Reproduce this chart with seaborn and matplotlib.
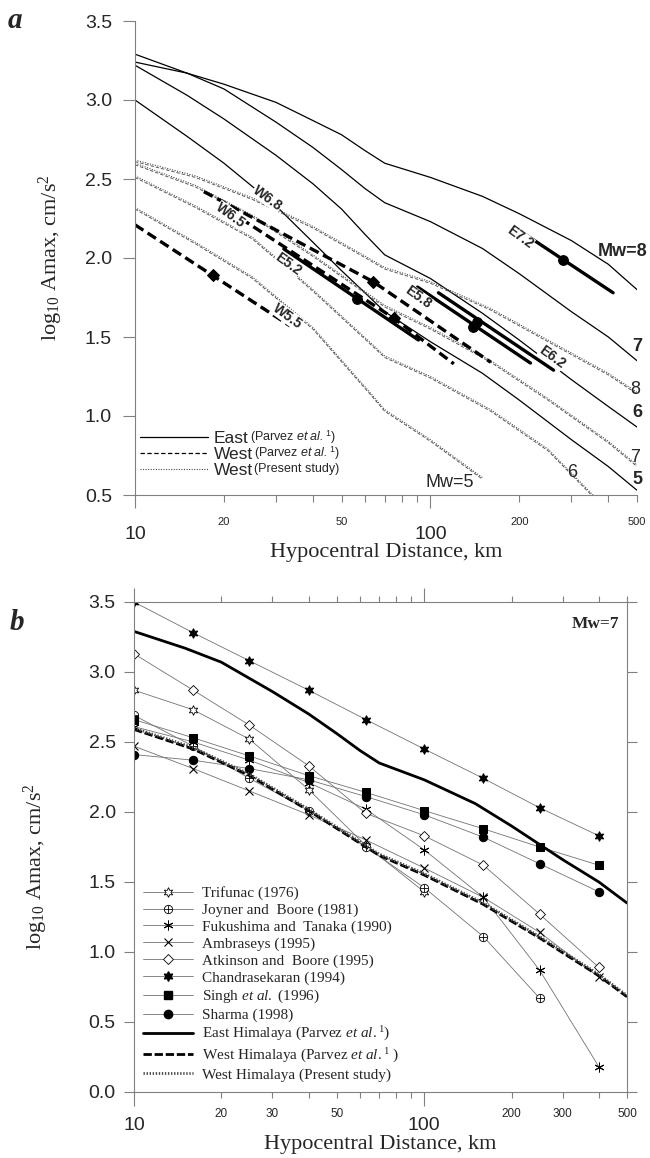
import matplotlib
matplotlib.use("Agg")
import matplotlib.pyplot as plt
import seaborn as sns
from matplotlib.lines import Line2D
from matplotlib.legend_handler import HandlerTuple

# ---------------- DATA : panel a ----------------
EAST_R = [10, 15, 20, 30, 40, 50, 60, 70, 100, 150, 200, 300, 400, 500]
EAST_M8 = [3.24, 3.17, 3.10, 2.985, 2.87, 2.78, 2.68, 2.60, 2.51, 2.39, 2.28, 2.11, 1.96, 1.80]
EAST_M7 = [3.29, 3.17, 3.07, 2.86, 2.70, 2.56, 2.44, 2.35, 2.23, 2.06, 1.90, 1.66, 1.50, 1.35]
EAST_M6 = [3.22, 3.03, 2.88, 2.65, 2.47, 2.31, 2.15, 2.02, 1.87, 1.65, 1.48, 1.23, 1.06, 0.93]
EAST_M5 = [3.00, 2.77, 2.60, 2.33, 2.10, 1.92, 1.78, 1.66, 1.47, 1.27, 1.10, 0.85, 0.68, 0.53]

WEST_R = [10, 16, 25, 40, 63, 70, 100, 160, 250, 400, 500]
WEST_R6 = [10, 16, 25, 40, 63, 70, 100, 160, 250, 400]
WEST_R5 = [10, 16, 25, 40, 63, 70, 100, 150]
WEST_PRES_M8 = [2.62, 2.52, 2.38, 2.20, 1.99, 1.94, 1.85, 1.68, 1.48, 1.27, 1.15]
WEST_PRES_M7 = [2.60, 2.46, 2.27, 2.02, 1.76, 1.70, 1.56, 1.35, 1.11, 0.84, 0.69]
WEST_PRES_M6 = [2.52, 2.33, 2.13, 1.80, 1.46, 1.38, 1.25, 1.04, 0.79, 0.40]
WEST_PRES_M5 = [2.32, 2.10, 1.88, 1.56, 1.14, 1.04, 0.85, 0.61]
WEST_PARV_M8 = [2.61, 2.51, 2.37, 2.19, 1.98, 1.93, 1.84, 1.67, 1.47, 1.26, 1.14]
WEST_PARV_M7 = [2.59, 2.45, 2.26, 2.01, 1.75, 1.69, 1.55, 1.34, 1.10, 0.83, 0.68]
WEST_PARV_M6 = [2.51, 2.32, 2.12, 1.79, 1.45, 1.37, 1.24, 1.03, 0.78, 0.39]
WEST_PARV_M5 = [2.31, 2.09, 1.87, 1.55, 1.13, 1.03, 0.84, 0.60]

# observed events (thick segments) : distance range / amplitude, and central marker
E52_R, E52_A, E52_MR, E52_MA = [31.9, 91], [2.057, 1.481], [56.6], [1.74]
E58_R, E58_A, E58_MR, E58_MA = [90.4, 218], [1.816, 1.335], [139.6], [1.563]
E62_R, E62_A, E62_MR, E62_MA = [106.4, 261], [1.78, 1.29], [144], [1.595]
E72_R, E72_A, E72_MR, E72_MA = [194, 415], [2.19, 1.78], [281], [1.987]
W68_R, W68_A, W68_MR, W68_MA = [17.1, 64, 160], [2.42, 1.85, 1.34], [64], [1.85]
W65_R, W65_A, W65_MR, W65_MA = [22.8, 75, 120], [2.25, 1.62, 1.33], [75], [1.62]
W55_R, W55_A, W55_MR, W55_MA = [10, 18.3, 33.5], [2.21, 1.89, 1.57], [18.3], [1.89]

# ---------------- DATA : panel b ----------------
B_R = [10, 16, 25, 40, 63, 100, 160, 250, 400]
TRIFUNAC = [2.87, 2.73, 2.52, 2.16, 1.76, 1.43]
JOYNER_BOORE = [2.69, 2.47, 2.24, 2.01, 1.75, 1.46, 1.11, 0.67]
FUKUSHIMA = [2.61, 2.50, 2.37, 2.21, 2.02, 1.73, 1.39, 0.87, 0.18]
AMBRASEYS = [2.47, 2.31, 2.15, 1.98, 1.80, 1.60, 1.39, 1.14, 0.82]
ATKINSON_BOORE = [3.13, 2.87, 2.62, 2.33, 1.99, 1.83, 1.62, 1.27, 0.89]
CHANDRASEKARAN = [3.50, 3.28, 3.08, 2.87, 2.66, 2.45, 2.24, 2.03, 1.83]
SINGH = [2.66, 2.53, 2.40, 2.26, 2.14, 2.01, 1.88, 1.75, 1.62]
SHARMA = [2.41, 2.37, 2.31, 2.23, 2.11, 1.98, 1.82, 1.63, 1.43]

X_MAJOR = [10, 100]
X_MINOR = [20, 30, 40, 50, 60, 70, 80, 90, 200, 300, 400, 500]
X_MINOR_LABELS_A = ["20", "", "", "50", "", "", "", "", "200", "", "", "500"]
X_MINOR_LABELS_B = ["20", "30", "", "50", "", "", "", "", "200", "300", "", "500"]

# ---------------- STYLE ----------------
sns.set_style("ticks")
plt.rcParams["font.family"] = ["Liberation Sans", "DejaVu Sans"]
plt.rcParams["mathtext.fontset"] = "custom"
plt.rcParams["mathtext.rm"] = "Liberation Serif"
plt.rcParams["mathtext.it"] = "Liberation Serif:italic"
plt.rcParams["mathtext.bf"] = "Liberation Serif:bold"
plt.rcParams["mathtext.sf"] = "Liberation Sans"
plt.rcParams["mathtext.tt"] = "Liberation Sans:italic"
SERIF = ["Liberation Serif", "DejaVu Serif"]
SPINE = "0.5"

W, H = 650, 1158
fig = plt.figure(figsize=(W / 100, H / 100), dpi=100)
axA = fig.add_axes([135 / W, 1 - 495 / H, (637 - 135) / W, (495 - 21) / H])
axB = fig.add_axes([134 / W, 1 - 1092 / H, (627 - 134) / W, (1092 - 602) / H])


def line(ax, x, y, **kw):
    sns.lineplot(x=x, y=y, ax=ax, estimator=None, sort=False, legend=False, **kw)


DOT = (0, (1, 1.3))
DASH = (0, (3.5, 2))

# ================= PANEL a =================
ax = axA
ax.set_xscale("log")
for yv in (EAST_M8, EAST_M7, EAST_M6, EAST_M5):
    line(ax, EAST_R, yv, color="black", linewidth=0.9)
for yv in (WEST_PARV_M8, WEST_PARV_M7):
    line(ax, WEST_R, yv, color="0.35", linewidth=0.7, linestyle=DASH)
line(ax, WEST_R6, WEST_PARV_M6, color="0.35", linewidth=0.7, linestyle=DASH)
line(ax, WEST_R5, WEST_PARV_M5, color="0.35", linewidth=0.7, linestyle=DASH)
for yv in (WEST_PRES_M8, WEST_PRES_M7):
    line(ax, WEST_R, yv, color="0.3", linewidth=0.8, linestyle=DOT)
line(ax, WEST_R6, WEST_PRES_M6, color="0.3", linewidth=0.8, linestyle=DOT)
line(ax, WEST_R5, WEST_PRES_M5, color="0.3", linewidth=0.8, linestyle=DOT)

for r, a, mr, ma in ((E52_R, E52_A, E52_MR, E52_MA), (E58_R, E58_A, E58_MR, E58_MA),
                     (E62_R, E62_A, E62_MR, E62_MA), (E72_R, E72_A, E72_MR, E72_MA)):
    line(ax, r, a, color="black", linewidth=2.4)
    line(ax, mr, ma, color="black", linestyle="none", marker="o", markersize=7,
         markerfacecolor="black", markeredgecolor="black")
for r, a, mr, ma in ((W68_R, W68_A, W68_MR, W68_MA), (W65_R, W65_A, W65_MR, W65_MA),
                     (W55_R, W55_A, W55_MR, W55_MA)):
    line(ax, r, a, color="black", linewidth=2.4, linestyle=(0, (3, 1.5)))
    line(ax, mr, ma, color="black", linestyle="none", marker="D", markersize=6,
         markerfacecolor="black", markeredgecolor="black")

seg_lbl = dict(fontsize=10, fontweight="bold", rotation=-36, ha="center", va="center",
               rotation_mode="anchor",
               bbox=dict(facecolor="white", edgecolor="none", pad=0.2))
ax.text(201, 2.13, "E7.2", **seg_lbl)
ax.text(91, 1.75, "E5.8", **seg_lbl)
ax.text(258, 1.37, "E6.2", **seg_lbl)
ax.text(32.9, 1.96, "E5.2", **seg_lbl)
ax.text(28.1, 2.38, "W6.8", **seg_lbl)
ax.text(21.1, 2.27, "W6.5", **seg_lbl)
ax.text(32.9, 1.63, "W5.5", **seg_lbl)

ax.text(446, 2.04, "Mw=8", fontsize=13, fontweight="bold", ha="center", va="center")
ax.text(500, 1.44, "7", fontsize=13, fontweight="bold", ha="center", va="center")
ax.text(493, 1.165, "8", fontsize=13, ha="center", va="center")
ax.text(500, 1.02, "6", fontsize=13, fontweight="bold", ha="center", va="center")
ax.text(493, 0.74, "7", fontsize=13, ha="center", va="center")
ax.text(500, 0.60, "5", fontsize=13, fontweight="bold", ha="center", va="center")
ax.text(302, 0.64, "6", fontsize=13, ha="center", va="center")
ax.text(116, 0.58, "Mw=5", fontsize=13, ha="center", va="center")

ax.set_xlim(10, 500)
ax.set_ylim(0.5, 3.5)
ax.set_yticks([0.5, 1.0, 1.5, 2.0, 2.5, 3.0, 3.5], labels=["0.5", "1.0", "1.5", "2.0", "2.5", "3.0", "3.5"])
ax.set_xticks(X_MAJOR, labels=["10", "100"])
ax.set_xticks(X_MINOR, labels=X_MINOR_LABELS_A, minor=True)
ax.tick_params(axis="y", length=8.6, width=0.8, color=SPINE, labelsize=14, pad=8)
ax.tick_params(axis="x", which="major", length=9.4, width=0.8, color=SPINE, labelsize=14, pad=13)
ax.tick_params(axis="x", which="minor", length=5, width=0.8, color=SPINE, labelsize=8, pad=10.5)
sns.despine(ax=ax)
for s in ("left", "bottom"):
    ax.spines[s].set_color(SPINE)
    ax.spines[s].set_linewidth(0.8)
ax.set_xlabel("Hypocentral Distance, km", fontsize=16, family=SERIF, labelpad=0)
ax.set_ylabel(r"$\mathrm{log}_{10}$ Amax, cm/s$^{2}$", fontsize=16, family=SERIF, labelpad=14)

hA = [Line2D([], [], color="black", lw=0.9),
      Line2D([], [], color="black", lw=0.9, ls=DASH),
      Line2D([], [], color="0.3", lw=0.8, ls=DOT)]
legA = ax.legend(hA, ["East", "West", "West"], loc="upper left", bbox_to_anchor=(0.01, 0.135),
                 frameon=False, fontsize=12.5, handlelength=3.9, handletextpad=0.35,
                 labelspacing=0.05, borderpad=0, borderaxespad=0)
fig.canvas.draw()
paren = [r"(Parvez $\mathtt{et\ al.}^{\mathsf{1}}$)", r"(Parvez $\mathtt{et\ al.}^{\mathsf{1}}$)", "(Present study)"]
for t, p in zip(legA.get_texts(), paren):
    ax.annotate(p, xy=(1, 0.5), xycoords=t, xytext=(1, 1), textcoords="offset points",
                ha="left", va="center", fontsize=9, zorder=10)

# ================= PANEL b =================
ax = axB
ax.set_xscale("log")
GREY = "0.45"
LW = 0.6
MS = 6
line(ax, B_R[:len(TRIFUNAC)], TRIFUNAC, color=GREY, linewidth=LW, marker=(6, 1, 0), markersize=MS + 1,
     markerfacecolor="white", markeredgecolor="black", markeredgewidth=0.6)
line(ax, B_R[:len(JOYNER_BOORE)], JOYNER_BOORE, color=GREY, linewidth=LW, marker="o", markersize=MS,
     markerfacecolor="white", markeredgecolor="black", markeredgewidth=0.6)
line(ax, B_R[:len(JOYNER_BOORE)], JOYNER_BOORE, color=GREY, linewidth=0, marker="+", markersize=MS,
     markeredgecolor="black", markeredgewidth=0.6)
line(ax, B_R, FUKUSHIMA, color=GREY, linewidth=LW, marker=(6, 2, 0), markersize=MS + 1,
     markeredgecolor="black", markeredgewidth=0.7)
line(ax, B_R, AMBRASEYS, color=GREY, linewidth=LW, marker="x", markersize=MS,
     markeredgecolor="black", markeredgewidth=0.8)
line(ax, B_R, ATKINSON_BOORE, color=GREY, linewidth=LW, marker="D", markersize=MS - 1,
     markerfacecolor="white", markeredgecolor="black", markeredgewidth=0.6)
line(ax, B_R, CHANDRASEKARAN, color=GREY, linewidth=LW, marker=(6, 1, 0), markersize=MS + 1,
     markerfacecolor="black", markeredgecolor="black")
line(ax, B_R, SINGH, color=GREY, linewidth=LW, marker="s", markersize=MS,
     markerfacecolor="black", markeredgecolor="black")
line(ax, B_R, SHARMA, color=GREY, linewidth=LW, marker="o", markersize=MS,
     markerfacecolor="black", markeredgecolor="black")
line(ax, EAST_R, EAST_M7, color="black", linewidth=2.0)
line(ax, WEST_R, WEST_PARV_M7, color="black", linewidth=2.0, linestyle=(0, (3, 1)))
line(ax, WEST_R, WEST_PRES_M7, color="0.3", linewidth=2.0, linestyle=(0, (0.5, 0.6)))

ax.text(470, 3.34, "Mw=7", fontsize=12.5, fontweight="bold", family=SERIF, ha="right", va="center")

ax.set_xlim(10, 500)
ax.set_ylim(0, 3.5)
ax.set_yticks([0, 0.5, 1.0, 1.5, 2.0, 2.5, 3.0, 3.5],
              labels=["0.0", "0.5", "1.0", "1.5", "2.0", "2.5", "3.0", "3.5"])
ax.set_xticks(X_MAJOR, labels=["10", "100"])
ax.set_xticks(X_MINOR, labels=X_MINOR_LABELS_B, minor=True)
ax.tick_params(axis="y", length=7.2, width=0.8, color=SPINE, labelsize=14, pad=6, right=True)
ax.tick_params(axis="x", which="major", length=10, width=0.8, color=SPINE, labelsize=14, pad=8, top=True)
ax.tick_params(axis="x", which="minor", length=4.5, width=0.8, color=SPINE, labelsize=8.5, pad=7, top=True)
for s in ax.spines.values():
    s.set_color(SPINE)
    s.set_linewidth(0.8)
ax.set_xlabel("Hypocentral Distance, km", fontsize=16, family=SERIF, labelpad=1)
ax.set_ylabel(r"$\mathrm{log}_{10}$ Amax, cm/s$^{2}$", fontsize=16, family=SERIF)
ax.yaxis.set_label_coords(-0.17, 0.46)

mk = dict(color=GREY, lw=LW, markeredgecolor="black")
hB = [Line2D([], [], marker=(6, 1, 0), ms=MS + 1, mfc="white", mew=0.6, **mk),
      (Line2D([], [], marker="o", ms=MS, mfc="white", mew=0.6, **mk),
       Line2D([], [], lw=0, marker="+", ms=MS, mec="black", mew=0.6)),
      Line2D([], [], marker=(6, 2, 0), ms=MS + 1, mew=0.7, **mk),
      Line2D([], [], marker="x", ms=MS, mew=0.8, **mk),
      Line2D([], [], marker="D", ms=MS - 1, mfc="white", mew=0.6, **mk),
      Line2D([], [], marker=(6, 1, 0), ms=MS + 1, mfc="black", **mk),
      Line2D([], [], marker="s", ms=MS, mfc="black", **mk),
      Line2D([], [], marker="o", ms=MS, mfc="black", **mk),
      Line2D([], [], color="black", lw=2.0),
      Line2D([], [], color="black", lw=2.0, ls=(0, (3, 1))),
      Line2D([], [], color="0.3", lw=2.0, ls=(0, (0.5, 0.6)))]
labB = ["Trifunac (1976)", "Joyner and  Boore (1981)", "Fukushima and  Tanaka (1990)",
        "Ambraseys (1995)", "Atkinson and  Boore (1995)", "Chandrasekaran (1994)",
        r"Singh $\mathit{et\ al.}$ (1996)", "Sharma (1998)",
        r"East Himalaya (Parvez $\mathit{et\ al.}^{\mathrm{1}}$)",
        r"West Himalaya (Parvez $\mathit{et\ al.}^{\mathrm{1}}$ )",
        "West Himalaya (Present study)"]
ax.legend(hB, labB, loc="upper left", bbox_to_anchor=(0.018, 0.42), frameon=False,
          prop={"family": SERIF, "size": 11}, handlelength=3.3, handletextpad=0.6,
          labelspacing=0.2, borderpad=0, borderaxespad=0,
          handler_map={tuple: HandlerTuple(ndivide=1)})

fig.text(15 / W, 1 - 20 / H, "a", fontsize=21, fontweight="bold", fontstyle="italic",
         family=SERIF, ha="center", va="center")
fig.text(17 / W, 1 - 623 / H, "b", fontsize=21, fontweight="bold", fontstyle="italic",
         family=SERIF, ha="center", va="center")

fig.savefig("out.png", dpi=100)
